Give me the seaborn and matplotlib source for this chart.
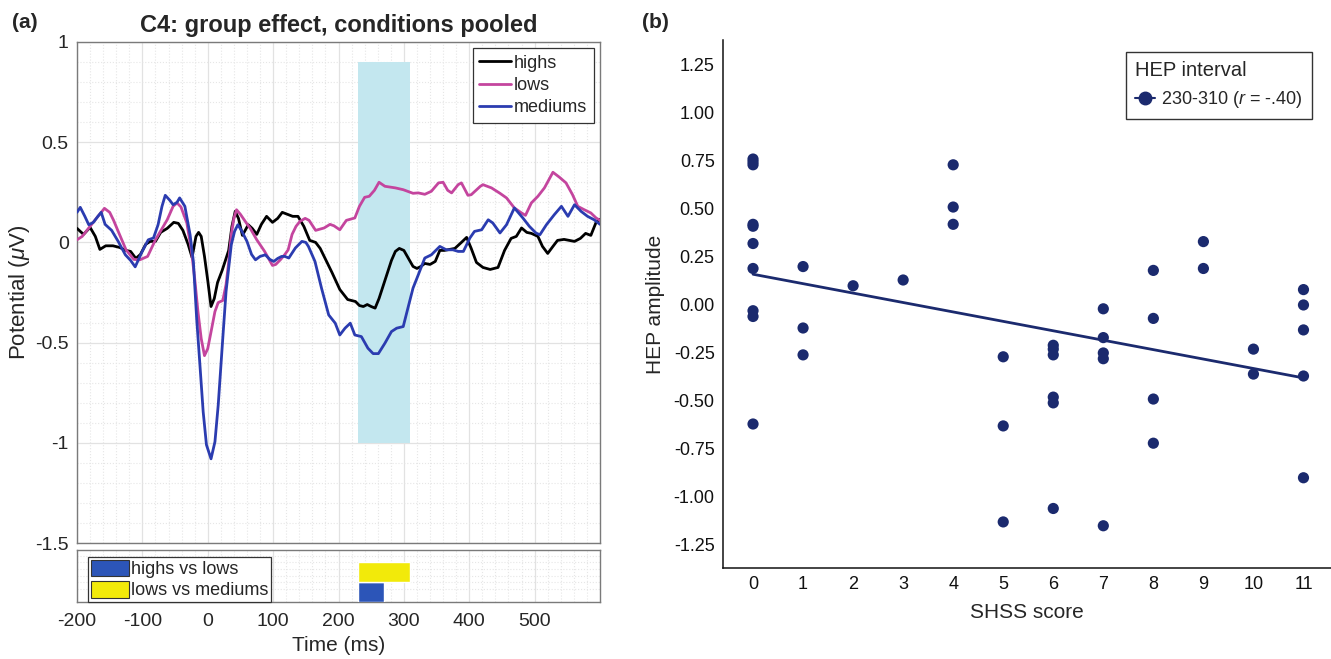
import numpy as np
import pandas as pd
import matplotlib
matplotlib.use('Agg')
import matplotlib.pyplot as plt
from matplotlib.lines import Line2D
from matplotlib.patches import Patch
from matplotlib.ticker import MultipleLocator
import seaborn as sns

# ---------------- data: panel (a) ----------------
highs_pts = [(-200,0.07),(-190,0.04),(-180,0.075),(-172,0.03),(-165,-0.035),(-156,-0.017),(-145,-0.017),
             (-135,-0.025),(-125,-0.04),(-118,-0.045),(-110,-0.08),(-103,-0.06),(-95,-0.01),(-88,0.005),
             (-80,0.005),(-72,0.05),(-62,0.07),(-52,0.1),(-45,0.095),(-38,0.06),(-30,-0.01),(-24,-0.075),
             (-18,0.03),(-14,0.05),(-10,0.03),(-5,-0.07),(0,-0.19),(5,-0.32),(10,-0.28),(15,-0.2),(22,-0.14),
             (28,-0.08),(32,-0.04),(37,0.08),(42,0.155),(47,0.12),(53,0.035),(62,0.088),(68,0.07),(75,0.04),
             (82,0.09),(90,0.13),(99,0.1),(107,0.12),(114,0.15),(122,0.14),(130,0.13),(138,0.13),(147,0.08),
             (156,0.01),(165,0.0),(172,-0.03),(178,-0.07),(190,-0.15),(202,-0.235),(214,-0.285),(220,-0.29),
             (226,-0.295),(232,-0.315),(238,-0.32),(244,-0.31),(250,-0.32),(256,-0.328),(262,-0.28),
             (268,-0.22),(275,-0.15),(281,-0.09),(287,-0.045),(293,-0.03),(300,-0.04),(307,-0.08),
             (314,-0.12),(320,-0.13),(326,-0.12),(332,-0.105),(340,-0.11),(348,-0.095),(355,-0.04),
             (362,-0.04),(370,-0.035),(378,-0.03),(388,0.0),(396,0.025),(403,-0.03),(411,-0.1),(421,-0.125),
             (432,-0.135),(444,-0.125),(454,-0.04),(464,0.02),(472,0.03),(480,0.072),(488,0.05),(495,0.045),
             (505,0.03),(512,-0.02),(520,-0.055),(528,-0.02),(535,0.01),(545,0.015),(553,0.01),(561,0.005),
             (570,0.02),(578,0.045),(586,0.035),(594,0.1),(600,0.115)]
lows_pts = [(-200,0.013),(-192,0.03),(-180,0.08),(-168,0.13),(-158,0.17),(-150,0.15),(-144,0.11),(-138,0.063),
            (-125,-0.037),(-113,-0.085),(-104,-0.087),(-92,-0.07),(-80,0.013),(-71,0.063),(-62,0.113),
            (-53,0.18),(-47,0.197),(-41,0.177),(-32,0.097),(-25,-0.04),(-20,-0.18),(-15,-0.345),(-10,-0.48),
            (-5,-0.565),(0,-0.53),(6,-0.43),(11,-0.345),(16,-0.3),(23,-0.29),(28,-0.21),(32,-0.1),(36,0.04),
            (40,0.12),(44,0.163),(50,0.14),(59,0.097),(65,0.07),(75,0.013),(87,-0.045),(99,-0.115),
            (104,-0.11),(111,-0.087),(118,-0.06),(123,-0.037),(129,0.04),(135,0.08),(141,0.105),(149,0.12),
            (155,0.11),(165,0.06),(178,0.072),(187,0.09),(193,0.083),(202,0.063),(212,0.11),(225,0.122),
            (232,0.18),(240,0.225),(247,0.23),(255,0.26),(262,0.3),(271,0.28),(287,0.272),(299,0.263),
            (314,0.245),(322,0.247),(332,0.24),(342,0.255),(353,0.297),(360,0.3),(367,0.26),(373,0.247),
            (383,0.288),(388,0.297),(398,0.235),(403,0.238),(417,0.28),(421,0.288),(434,0.272),(447,0.245),
            (457,0.222),(469,0.172),(480,0.147),(486,0.135),(495,0.197),(505,0.23),(515,0.272),(528,0.35),
            (538,0.325),(548,0.297),(558,0.238),(566,0.18),(576,0.163),(586,0.147),(594,0.122),(600,0.11)]
mediums_pts = [(-200,0.15),(-195,0.175),(-188,0.13),(-182,0.088),(-175,0.1),(-168,0.13),(-163,0.15),
               (-157,0.09),(-147,0.06),(-137,0.005),(-126,-0.062),(-118,-0.09),(-111,-0.122),(-101,-0.05),
               (-91,0.013),(-83,0.022),(-76,0.088),(-70,0.18),(-65,0.235),(-58,0.21),(-53,0.188),(-47,0.2),
               (-43,0.222),(-35,0.18),(-27,0.038),(-22,-0.095),(-17,-0.378),(-12,-0.61),(-7,-0.845),
               (-2,-1.01),(5,-1.08),(11,-0.995),(16,-0.812),(23,-0.478),(28,-0.245),(36,-0.012),(41,0.055),
               (46,0.088),(51,0.063),(60,0.005),(67,-0.06),(73,-0.087),(80,-0.07),(88,-0.062),(95,-0.085),
               (101,-0.095),(107,-0.08),(113,-0.07),(118,-0.07),(124,-0.078),(134,-0.028),(144,0.005),
               (150,0.0),(154,-0.02),(164,-0.095),(174,-0.228),(185,-0.362),(195,-0.403),(202,-0.462),
               (210,-0.428),(218,-0.403),(225,-0.462),(235,-0.47),(245,-0.528),(253,-0.555),(261,-0.555),
               (271,-0.503),(281,-0.445),(289,-0.428),(299,-0.42),(306,-0.33),(314,-0.228),(322,-0.162),
               (332,-0.078),(342,-0.062),(355,-0.02),(365,-0.037),(375,-0.037),(383,-0.045),(391,-0.045),
               (401,0.022),(408,0.055),(419,0.063),(429,0.113),(436,0.097),(447,0.047),(457,0.088),
               (469,0.172),(482,0.122),(492,0.08),(502,0.047),(508,0.038),(518,0.088),(530,0.138),
               (541,0.18),(551,0.13),(561,0.188),(571,0.155),(581,0.13),(591,0.113),(600,0.09)]
groups = ['highs', 'lows', 'mediums']
group_colors = ['#000000', '#c4459e', '#2b3cb0']
window = [230, 310]
window_v = [-1.0, 0.9]
sig_labels = ['highs vs lows', 'lows vs mediums']
sig_start = [230, 230]
sig_end = [270, 310]
sig_colors = ['#2c55b8', '#f2ea0a']
time_ticks = [-200, -100, 0, 100, 200, 300, 400, 500]
pot_ticks = [1, 0.5, 0, -0.5, -1, -1.5]
pot_ticklabels = ['1', '0.5', '0', '-0.5', '-1', '-1.5']

# ---------------- data: panel (b) ----------------
shss = [0]*10 + [1]*3 + [2] + [3] + [4]*3 + [5]*3 + [6]*6 + [7]*5 + [8]*4 + [9]*2 + [10]*2 + [11]*5
hep = [0.76, 0.745, 0.73, 0.42, 0.41, 0.32, 0.19, -0.03, -0.06, -0.62,
       0.20, -0.12, -0.26,
       0.10,
       0.13,
       0.73, 0.51, 0.42,
       -0.27, -0.63, -1.13,
       -0.21, -0.23, -0.26, -0.48, -0.51, -1.06,
       -0.02, -0.17, -0.25, -0.28, -1.15,
       0.18, -0.07, -0.49, -0.72,
       0.33, 0.19,
       -0.23, -0.36,
       0.08, 0.00, -0.13, -0.37, -0.90]
fit_x = [0, 11]
fit_y = [0.16, -0.38]
shss_ticks = list(range(12))
hep_ticks = [1.25, 1.00, 0.75, 0.50, 0.25, 0.00, -0.25, -0.50, -0.75, -1.00, -1.25]
point_color = '#1b2a6e'

# ---------------- style ----------------
sns.set_theme(style='white')
plt.rcParams['font.family'] = ['Liberation Sans', 'DejaVu Sans']
plt.rcParams['mathtext.fontset'] = 'custom'
plt.rcParams['mathtext.rm'] = 'Liberation Sans'
plt.rcParams['mathtext.it'] = 'Liberation Sans:italic'
plt.rcParams['axes.unicode_minus'] = False

fig = plt.figure(figsize=(13.31, 6.59), dpi=100)
W, H = 1331, 659
def rect(x0, y0, x1, y1):
    return [x0 / W, 1 - y1 / H, (x1 - x0) / W, (y1 - y0) / H]

ax = fig.add_axes(rect(77, 42, 600, 543))
axs = fig.add_axes(rect(77, 550, 600, 602))
axr = fig.add_axes(rect(723, 40, 1331, 568))

# ---------------- panel (a) main ----------------
rows = []
for g, pts in zip(groups, [highs_pts, lows_pts, mediums_pts]):
    for t, v in pts:
        rows.append({'t': t, 'v': v, 'group': g})
df = pd.DataFrame(rows)

ax.fill_betweenx(window_v, window[0], window[1], color='#c3e7ef', zorder=1, lw=0)
sns.lineplot(data=df, x='t', y='v', hue='group', palette=dict(zip(groups, group_colors)),
             estimator=None, sort=False, linewidth=2.0, legend=False, ax=ax, zorder=3)
ax.set_xlim(-200, 600)
ax.set_ylim(-1.5, 1.0)
ax.set_xticks(time_ticks)
ax.set_xticklabels([])
ax.set_yticks(pot_ticks)
ax.set_yticklabels(pot_ticklabels, fontsize=14)
ax.xaxis.set_minor_locator(MultipleLocator(20))
ax.yaxis.set_minor_locator(MultipleLocator(0.1))
ax.grid(which='major', color='#e2e2e2', lw=0.9, zorder=0)
ax.grid(which='minor', color='#e6e6e6', lw=0.8, ls=':', zorder=0)
ax.set_axisbelow(True)
ax.tick_params(which='major', direction='in', length=4, color='#555555', pad=6)
ax.tick_params(which='minor', length=0)
for s in ax.spines.values():
    s.set_color('#7a7a7a')
    s.set_linewidth(1.0)
ax.set_xlabel('')
ax.set_ylabel(r'Potential ($\mu$V)', fontsize=16, labelpad=2)
ax.set_title('C4: group effect, conditions pooled', fontsize=17, fontweight='bold', pad=7)
handles = [Line2D([0], [0], color=c, lw=2) for c in group_colors]
leg = ax.legend(handles, groups, loc='upper right', fontsize=13, frameon=True, fancybox=False,
                edgecolor='#333333', framealpha=1, handlelength=1.8, labelspacing=0.3,
                borderpad=0.35, handletextpad=0.15, borderaxespad=0.35)
leg.get_frame().set_linewidth(0.9)

# ---------------- panel (a) significance strip ----------------
axs.barh(y=[0.5, 1.5], width=np.array(sig_end) - np.array(sig_start), left=sig_start,
         height=1.0, color=sig_colors, zorder=3)
axs.set_xlim(-200, 600)
axs.set_ylim(0, 2.6)
axs.set_xticks(time_ticks)
axs.set_xticklabels([str(t) for t in time_ticks], fontsize=14)
axs.set_yticks([0.33, 1.0, 1.67, 2.33])
axs.set_yticklabels([])
axs.xaxis.set_minor_locator(MultipleLocator(20))
axs.yaxis.set_minor_locator(MultipleLocator(0.33))
axs.grid(which='major', axis='x', color='#e2e2e2', lw=0.9, zorder=0)
axs.grid(which='minor', color='#e6e6e6', lw=0.8, ls=':', zorder=0)
axs.set_axisbelow(True)
axs.tick_params(which='major', direction='in', length=4, color='#555555', pad=8)
axs.tick_params(which='minor', length=0)
for s in axs.spines.values():
    s.set_color('#7a7a7a')
    s.set_linewidth(1.0)
axs.set_xlabel('Time (ms)', fontsize=15, labelpad=4)
sig_handles = [Patch(facecolor=c, edgecolor='#333333', lw=0.8) for c in sig_colors]
leg2 = axs.legend(sig_handles, sig_labels, loc='lower left', bbox_to_anchor=(0.021, 0.0),
                  fontsize=13, frameon=True, fancybox=False, edgecolor='#333333', framealpha=1,
                  handlelength=2.1, handleheight=1.05, labelspacing=0.15, borderpad=0.15,
                  handletextpad=0.15, borderaxespad=0.0)
leg2.get_frame().set_linewidth(0.9)

# ---------------- panel (b) ----------------
sns.scatterplot(x=shss, y=hep, color=point_color, s=65, edgecolor='none', ax=axr, legend=False, zorder=3)
sns.lineplot(x=fit_x, y=fit_y, color=point_color, linewidth=2.0, ax=axr, legend=False, zorder=2)
axr.set_xlim(-0.6, 11.55)
axr.set_ylim(-1.37, 1.38)
axr.set_xticks(shss_ticks)
axr.set_xticklabels([str(t) for t in shss_ticks], fontsize=13)
axr.set_yticks(hep_ticks)
axr.set_yticklabels([f'{v:.2f}' for v in hep_ticks], fontsize=13)
axr.tick_params(direction='out', length=3, width=0.8, color='#333333', pad=3, labelcolor='#111111')
for side in ['top', 'right']:
    axr.spines[side].set_visible(False)
for side in ['left', 'bottom']:
    axr.spines[side].set_color('#111111')
    axr.spines[side].set_linewidth(1.1)
axr.set_xlabel('SHSS score', fontsize=15, labelpad=7)
axr.set_ylabel('HEP amplitude', fontsize=15, labelpad=6)
hh = [Line2D([0], [0], color=point_color, marker='o', markersize=9, lw=1.5)]
leg3 = axr.legend(hh, [r'230-310 ($r$ = -.40)'], title='HEP interval', loc='upper right',
                  bbox_to_anchor=(1312 / W, 1 - 52 / H), bbox_transform=fig.transFigure,
                  fontsize=13, title_fontsize=14.5, frameon=True, fancybox=False, edgecolor='#333333',
                  framealpha=1, handlelength=1.1, handletextpad=0.35, borderpad=0.5, borderaxespad=0.0)
leg3._legend_box.align = 'left'
leg3.get_frame().set_linewidth(1.0)

fig.text(25 / W, 1 - 22 / H, '(a)', fontsize=15, fontweight='bold', ha='center', va='center')
fig.text(655 / W, 1 - 22 / H, '(b)', fontsize=15, fontweight='bold', ha='center', va='center')

fig.savefig('out.png', dpi=100)
